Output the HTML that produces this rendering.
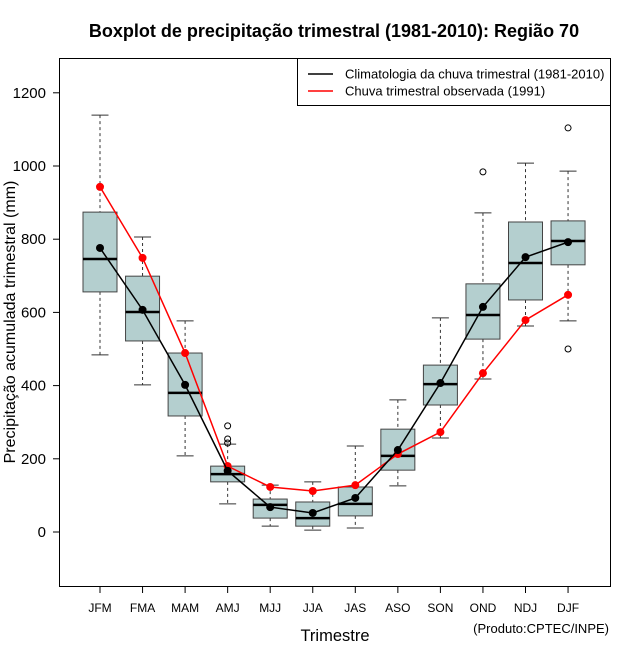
<!DOCTYPE html>
<html><head><meta charset="utf-8"><style>
html,body{margin:0;padding:0;background:#fff;}
svg{display:block;font-family:"Liberation Sans",sans-serif;}
</style></head><body>
<svg id="chart" width="640" height="660" viewBox="0 0 640 660" xmlns="http://www.w3.org/2000/svg">
<rect width="640" height="660" fill="#fff"/>
<text x="334" y="37" text-anchor="middle" font-size="18" font-weight="bold">Boxplot de precipitação trimestral (1981-2010): Região 70</text>
<rect x="59.5" y="58.5" width="551" height="528" fill="none" stroke="#000"/>
<g id="yaxis"></g>
<g id="xaxis"></g>
<g id="boxes"></g>
<g id="lines"></g>
<text transform="translate(15,322) rotate(-90)" text-anchor="middle" font-size="16">Precipitação acumulada trimestral (mm)</text>
<text x="335" y="641" text-anchor="middle" font-size="16.5">Trimestre</text>
<text x="609" y="633" text-anchor="end" font-size="13">(Produto:CPTEC/INPE)</text>
<g>
<rect x="297.5" y="58.5" width="313" height="47" fill="#fff" stroke="#000"/>
<line x1="308" y1="74" x2="333" y2="74" stroke="#000" stroke-width="1.5"/>
<line x1="308" y1="91" x2="333" y2="91" stroke="#f00" stroke-width="1.5"/>
<text x="345" y="78.5" font-size="13">Climatologia da chuva trimestral (1981-2010)</text>
<text x="345" y="95.5" font-size="13">Chuva trimestral observada (1991)</text>
</g>
</svg>
<script>
const categories=["JFM","FMA","MAM","AMJ","MJJ","JJA","JAS","ASO","SON","OND","NDJ","DJF"];
const whiskerHigh=[1139,806,577,240,128,137,235,361,585,872,1008,986];
const q3=[874,699,489,180,90,82,123,281,456,678,847,850];
const median=[746,601,380,158,74,38,77,208,404,593,735,795];
const q1=[656,522,317,137,38,16,44,169,347,527,634,730];
const whiskerLow=[484,402,208,77,16,5,11,126,257,418,563,577];
const outliers=[[],[],[],[290,254,243],[],[],[],[],[],[984],[],[1104,500]];
const climatology=[776,607,402,167,68,52,93,224,407,615,751,792];
const observed=[943,749,489,180,123,112,128,213,273,434,579,648];
const yTicks=[0,200,400,600,800,1000,1200];

const NS="http://www.w3.org/2000/svg";
function y(v){return 532-v*0.366;}
function x(i){return 100+i*42.55;}
function mk(tag,attrs,parent){const e=document.createElementNS(NS,tag);for(const k in attrs)e.setAttribute(k,attrs[k]);parent.appendChild(e);return e;}
const ya=document.getElementById('yaxis'),xa=document.getElementById('xaxis'),bx=document.getElementById('boxes'),ln=document.getElementById('lines');
yTicks.forEach(t=>{
  const l=mk('line',{x1:53,x2:59,y1:y(t),y2:y(t),stroke:'#000'},ya);
  
  
  const tx=mk('text',{x:46,y:y(t)+5,'text-anchor':'end','font-size':15},ya);
  tx.textContent=t;
  
  
});
categories.forEach((c,i)=>{
  const l=mk('line',{x1:x(i),x2:x(i),y1:587,y2:593,stroke:'#000'},xa);
  
  
  const tx=mk('text',{x:x(i),y:612,'text-anchor':'middle','font-size':12},xa);
  tx.textContent=c;
  
  
  const g=mk('g',{},bx);
  
  
  const cx=x(i),hw=17,cw=8.5;
  mk('line',{x1:cx,x2:cx,y1:y(whiskerHigh[i]),y2:y(q3[i]),stroke:'#333','stroke-dasharray':'3,3'},g);
  mk('line',{x1:cx,x2:cx,y1:y(q1[i]),y2:y(whiskerLow[i]),stroke:'#333','stroke-dasharray':'3,3'},g);
  mk('line',{x1:cx-cw,x2:cx+cw,y1:y(whiskerHigh[i]),y2:y(whiskerHigh[i]),stroke:'#333'},g);
  mk('line',{x1:cx-cw,x2:cx+cw,y1:y(whiskerLow[i]),y2:y(whiskerLow[i]),stroke:'#333'},g);
  mk('rect',{x:cx-hw,y:y(q3[i]),width:2*hw,height:y(q1[i])-y(q3[i]),fill:'#b4cfcf',stroke:'#444'},g);
  mk('line',{x1:cx-hw,x2:cx+hw,y1:y(median[i]),y2:y(median[i]),stroke:'#000','stroke-width':2.5},g);
  outliers[i].forEach(o=>{
    const c2=mk('circle',{cx:cx,cy:y(o),r:3,fill:'none',stroke:'#000'},g);
    
    
  });
});
function series(vals,color,name){
  const p=mk('polyline',{points:vals.map((v,i)=>x(i)+','+y(v)).join(' '),fill:'none',stroke:color,'stroke-width':1.5},ln);
  
  
  vals.forEach((v,i)=>{
    const c=mk('circle',{cx:x(i),cy:y(v),r:4,fill:color},ln);
    
    
  });
}
series(observed,'#f00','observed');
series(climatology,'#000','climatology');
</script>
</body></html>
